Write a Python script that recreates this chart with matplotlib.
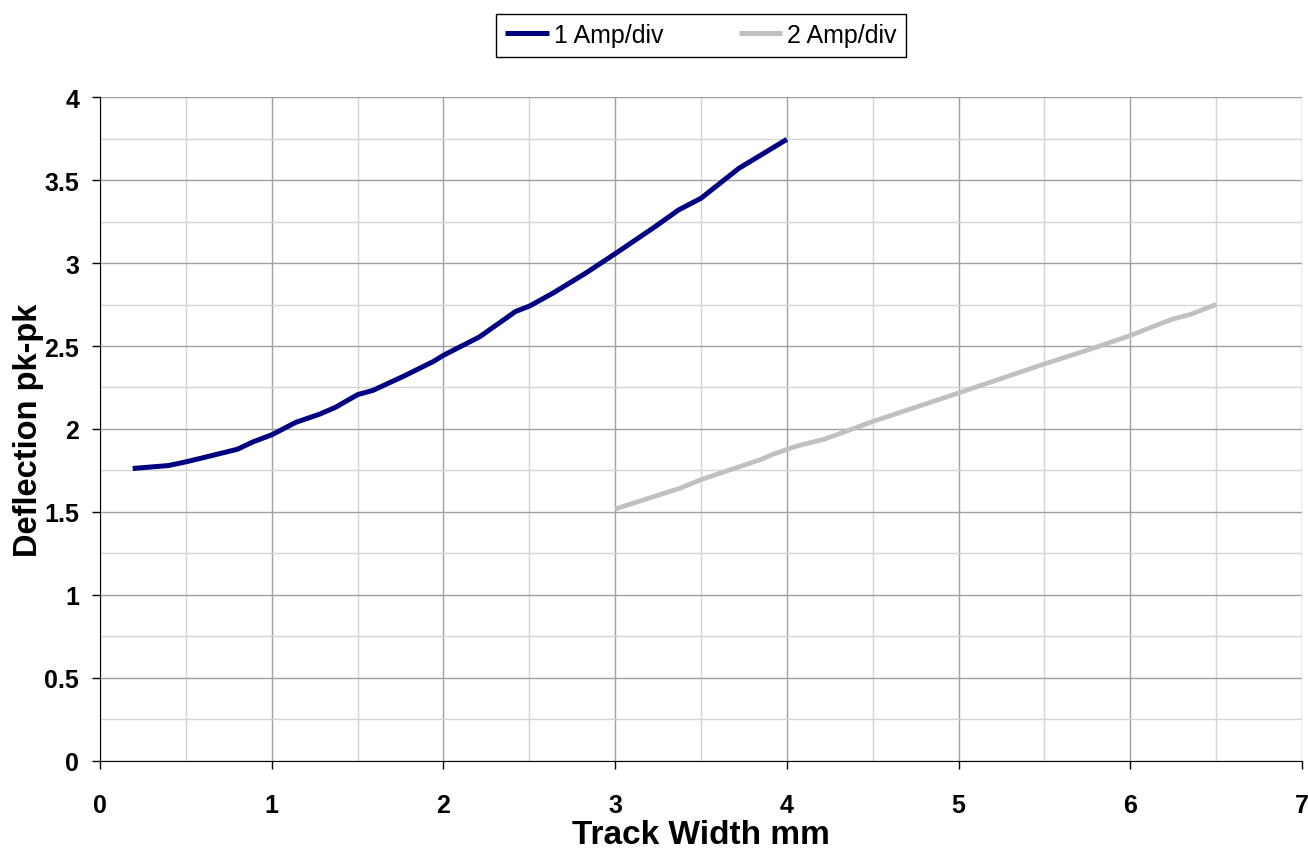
import matplotlib
matplotlib.use('agg')
import matplotlib.pyplot as plt
from matplotlib.ticker import MultipleLocator, FormatStrFormatter

plt.rcParams['font.family'] = ['Liberation Sans', 'DejaVu Sans']

# 1 Amp/div
x1 = [0.19, 0.40, 0.50, 0.60, 0.80, 0.89, 1.00, 1.14, 1.28, 1.37, 1.50, 1.59, 1.77, 1.94,
      2.00, 2.21, 2.42, 2.50, 2.64, 2.83, 3.00, 3.22, 3.37, 3.50, 3.72, 4.00]
y1 = [1.762, 1.780, 1.802, 1.827, 1.878, 1.922, 1.965, 2.040, 2.090, 2.130, 2.207, 2.233, 2.319, 2.406,
      2.444, 2.555, 2.708, 2.740, 2.820, 2.940, 3.056, 3.210, 3.320, 3.390, 3.570, 3.745]
# 2 Amp/div
x2 = [3.00, 3.38, 3.50, 3.85, 3.92, 4.06, 4.22, 4.50, 5.00, 5.50, 5.76, 6.00, 6.09, 6.24, 6.35, 6.50]
y2 = [1.518, 1.644, 1.695, 1.817, 1.848, 1.898, 1.939, 2.045, 2.217, 2.392, 2.478, 2.563, 2.600, 2.660, 2.690, 2.750]

fig = plt.figure(figsize=(13.08, 8.53), dpi=100)
ax = fig.add_axes([0.0765, 0.1067, 0.9189, 0.7784])

ax.plot(x1, y1, color='#000080', lw=3.6, label='1 Amp/div', solid_capstyle='butt')
ax.plot(x2, y2, color='#c0c0c0', lw=3.4, label='2 Amp/div', solid_capstyle='butt')

ax.set_xlim(0, 7)
ax.set_ylim(0, 4)
ax.xaxis.set_major_locator(MultipleLocator(1))
ax.xaxis.set_minor_locator(MultipleLocator(0.5))
ax.yaxis.set_major_locator(MultipleLocator(0.5))
ax.yaxis.set_minor_locator(MultipleLocator(0.25))
ax.yaxis.set_major_formatter(FormatStrFormatter('%g'))
ax.grid(which='major', color='#a0a0a0', lw=1)
ax.grid(which='minor', color='#d4d4d4', lw=1)
ax.set_axisbelow(True)
ax.tick_params(which='minor', length=0)
ax.tick_params(which='major', length=6, width=1, direction='out', labelsize=18)
ax.tick_params(axis='x', pad=17)
ax.tick_params(axis='y', pad=9)
for lab in ax.get_xticklabels() + ax.get_yticklabels():
    lab.set_fontweight('bold')
ax.spines['top'].set_visible(False)
ax.spines['right'].set_visible(False)

ax.set_xlabel('Track Width mm', fontsize=24, fontweight='bold', labelpad=1.5)
ax.set_ylabel('Deflection pk-pk', fontsize=23.5, fontweight='bold', labelpad=0)

leg = fig.legend(loc='center', bbox_to_anchor=(701 / 1308, 1 - 36 / 853), ncol=2, fontsize=18,
                 frameon=True, fancybox=False, edgecolor='black', handlelength=1.75,
                 columnspacing=3.0, borderpad=0.38, handletextpad=0.2, framealpha=1)
leg.get_frame().set_linewidth(1)
for h in leg.get_lines():
    h.set_linewidth(3.6)

fig.savefig('out.png', dpi=100)
